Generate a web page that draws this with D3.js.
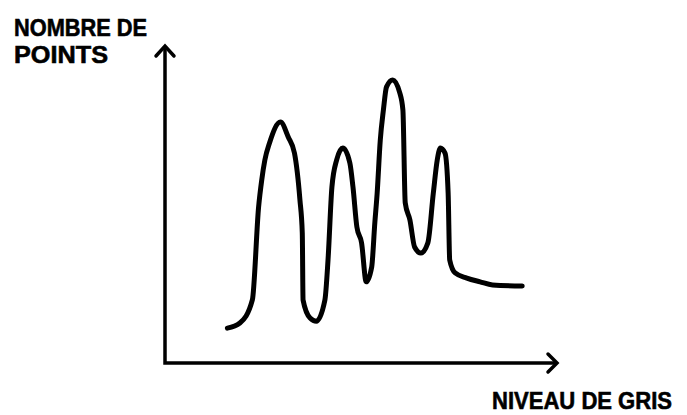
<!DOCTYPE html>
<html><head><meta charset="utf-8">
<script src="https://cdn.jsdelivr.net/npm/d3@7"></script>
<style>html,body{margin:0;padding:0;background:#fff;}svg{display:block;}</style>
</head><body>
<svg id="c" width="687" height="415"></svg>
<script>
// Grey level (x) and number of points (y)
const greyLevels = [40,48,56,60,62,64,67,74,79,83,86.5,88,88.5,93,97,102.5,104.5,107,110,114,118.5,120.5,123,126,129,132.5,134.5,136,138,140,142,146,150.5,152.5,154,157,160,164,168.5,172,174.5,176.5,179.5,181.5,182.5,186,193.5,202,210,229];
const pointCounts = [110,126,199,492,577,640,694,760,713,662,514,410,199,142,132,199,325,555,640,678,631,555,429,379,256,303,442,536,703,798,871,893,852,798,505,451,366,347,379,536,640,678,662,536,325,284,268,256,246,243];
const yLabelLines = ["NOMBRE DE","POINTS"];
const xLabel = "NIVEAU DE GRIS";

const svg = d3.select("#c");
const x = d3.scaleLinear().domain([0,250]).range([165,555]);
const y = d3.scaleLinear().domain([0,1000]).range([363,46]);
const data = greyLevels.map((g,i)=>({g, c: pointCounts[i]}));

// axes
const x0 = x(0), y0 = y(0), yTop = y(1000), xEnd = x(250)+2;
svg.append("path")
  .attr("d", `M${x0},${yTop+2} L${x0},${y0} L${xEnd-2},${y0}`)
  .attr("fill","none").attr("stroke","#000").attr("stroke-width",3.5)
  .attr("stroke-linejoin","miter");
// arrow heads
svg.append("path")
  .attr("d", `M${x0-9},${yTop+10} L${x0},${yTop} L${x0+9},${yTop+10}`)
  .attr("fill","none").attr("stroke","#000").attr("stroke-width",3.5).attr("stroke-linecap","round");
svg.append("path")
  .attr("d", `M${xEnd-9},${y0-9} L${xEnd},${y0} L${xEnd-9},${y0+9}`)
  .attr("fill","none").attr("stroke","#000").attr("stroke-width",3.5).attr("stroke-linecap","round");

// curve
const line = d3.line().x(d=>x(d.g)).y(d=>y(d.c)).curve(d3.curveMonotoneX);
svg.append("path").datum(data).attr("d", line)
  .attr("fill","none").attr("stroke","#000").attr("stroke-width",5)
  .attr("stroke-linejoin","round").attr("stroke-linecap","round");

// labels
const font = "'Liberation Sans Narrow', 'Liberation Sans', sans-serif";
function label(t, xx, yy, len){
  svg.append("text").text(t).attr("x",xx).attr("y",yy)
    .attr("font-family",font).attr("font-weight","bold").attr("font-size",24)
    .attr("stroke","#000").attr("stroke-width",0.6)
    .attr("textLength",len).attr("lengthAdjust","spacingAndGlyphs");
}
label(yLabelLines[0], 14, 36, 133);
label(yLabelLines[1], 14, 63, 94);
label(xLabel, 492, 409, 180);
</script>
</body></html>
